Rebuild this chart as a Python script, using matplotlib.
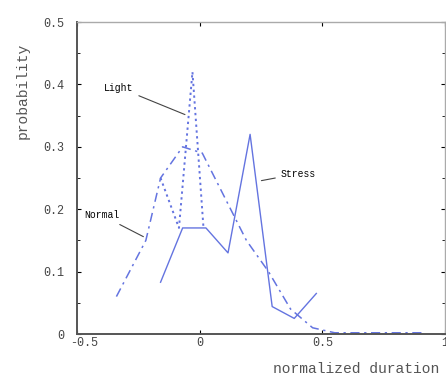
import numpy as np
import matplotlib
matplotlib.use("Agg")
import matplotlib.pyplot as plt
import matplotlib.transforms as mtransforms

# curve values
normal_x = [-0.34, -0.22, -0.16, -0.07, 0.01, 0.10, 0.19, 0.28, 0.37, 0.46, 0.55, 0.64, 0.73, 0.82, 0.91]
normal_y = [0.06, 0.15, 0.25, 0.30, 0.29, 0.22, 0.15, 0.10, 0.04, 0.01, 0.002, 0.002, 0.002, 0.002, 0.002]

light_x = [-0.16, -0.085, -0.03, 0.015]
light_y = [0.25, 0.17, 0.42, 0.17]

stress_x = [-0.16, -0.07, 0.025, 0.115, 0.205, 0.295, 0.385, 0.475]
stress_y = [0.083, 0.17, 0.17, 0.13, 0.32, 0.044, 0.025, 0.065]

blue = "#6474e0"
font = "Liberation Mono"

fig = plt.figure(figsize=(4.46, 3.8), dpi=100)
ax = fig.add_axes([0.173, 0.121, 0.825, 0.821])

ax.plot(normal_x, normal_y, color=blue, lw=1.1, linestyle=(0, (6, 3, 1.5, 3)))
ax.plot(light_x, light_y, color=blue, lw=1.4, linestyle=(0, (1.2, 1.8)))
ax.plot(stress_x, stress_y, color=blue, lw=1.0, linestyle="-")

ax.set_xlim(-0.5, 1.0)
ax.set_ylim(0, 0.5)
ax.set_xticks([-0.5, 0, 0.5, 1])
ax.set_xticklabels(["-0.5", "0", "0.5", "1"], fontfamily=font, fontsize=8.5, color="#444444")
ax.set_yticks([0, 0.1, 0.2, 0.3, 0.4, 0.5])
ax.set_yticklabels(["0", "0.1", "0.2", "0.3", "0.4", "0.5"], fontfamily=font, fontsize=8.5, color="#444444")
ax.set_yticks(np.arange(0.05, 0.5, 0.1), minor=True)
ax.tick_params(direction="in", length=3, width=0.8, top=True, right=True)
ax.tick_params(axis="x", pad=2)
ax.tick_params(axis="y", pad=9)
ax.tick_params(which="minor", direction="in", length=2, right=True)

# the minus sign hangs to the left of the tick in the original
shift = mtransforms.ScaledTranslation(7 / 100, 0, fig.dpi_scale_trans)
lab = ax.get_xticklabels()[0]
lab.set_transform(lab.get_transform() + shift)

for s in ["left", "bottom"]:
    ax.spines[s].set_color("#555555")
    ax.spines[s].set_linewidth(1.4)
for s in ["top", "right"]:
    ax.spines[s].set_color("#aaaaaa")
    ax.spines[s].set_linewidth(1.0)

ann = dict(arrowstyle="-", color="#444444", lw=0.8)
ax.annotate("Light", xy=(-0.05, 0.35), xytext=(-0.39, 0.395),
            fontfamily=font, fontsize=7, va="center", arrowprops=ann)
ax.annotate("Normal", xy=(-0.22, 0.154), xytext=(-0.47, 0.19),
            fontfamily=font, fontsize=7, va="center", arrowprops=ann)
ax.annotate("Stress", xy=(0.24, 0.245), xytext=(0.33, 0.257),
            fontfamily=font, fontsize=7, va="center", arrowprops=ann)

fig.text(0.05, 0.76, "probability", rotation=90, ha="center", va="center",
         fontfamily=font, fontsize=10.5, color="#555555")
fig.text(0.985, 0.03, "normalized duration", ha="right", va="center",
         fontfamily=font, fontsize=10.5, color="#555555")

fig.savefig("out.png", dpi=100)
